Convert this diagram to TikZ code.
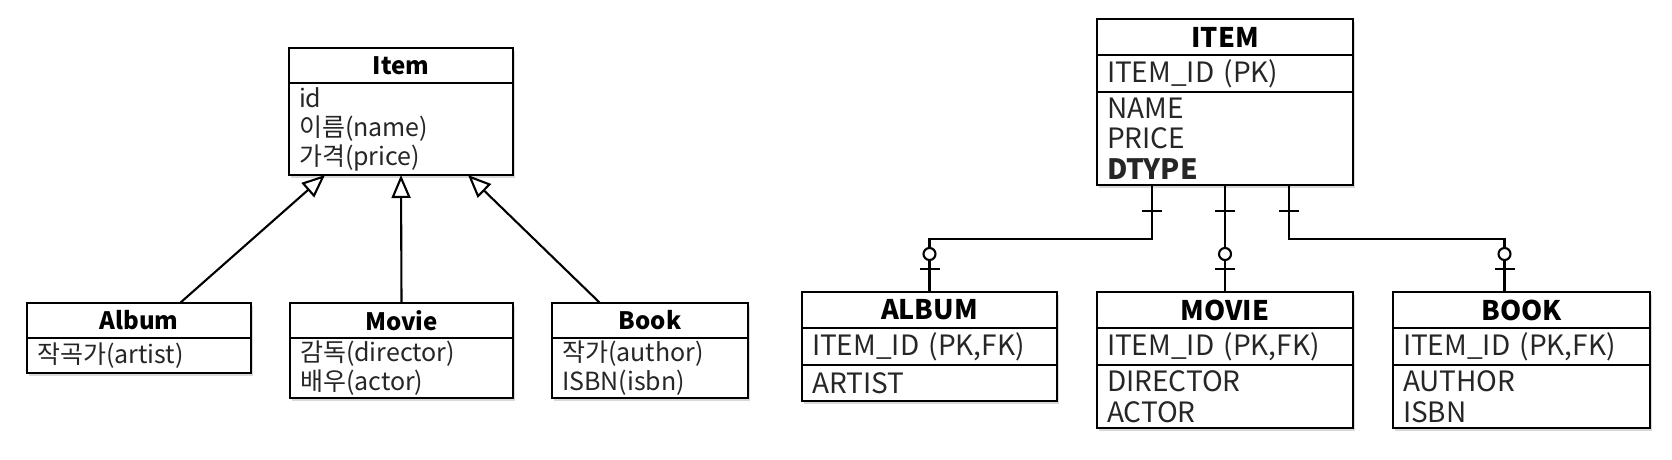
\documentclass[tikz,border=0pt]{standalone}
\usepackage{fontspec}
\setmainfont{Noto Sans CJK KR}
\usetikzlibrary{arrows.meta, positioning, calc, shadows}

\begin{document}
\begin{tikzpicture}[
    x=1pt, y=-1pt,
    box/.style={
        draw, line width=2.3pt, fill=white,
        inner xsep=10pt, inner ysep=0pt, outer sep=0pt, anchor=north west,
        drop shadow={shadow xshift=2pt, shadow yshift=-3pt, opacity=0.3}
    },
    umlhead/.style={box, minimum height=35pt, font=\fontsize{24}{28}\selectfont\bfseries},
    umlbody/.style={box, align=left, font=\fontsize{25}{29}\selectfont, text=black!85},
    erhead/.style={box, minimum height=36pt, font=\fontsize{27}{31}\selectfont\bfseries},
    erbody/.style={box, align=left, font=\fontsize{28}{30.5}\selectfont, text=black!85},
    inh/.style={-{Triangle[open, length=23pt, width=19pt]}, line width=2.1pt},
    rel/.style={line width=2.1pt}
]
\useasboundingbox (0,0) rectangle (1672,460);

% Class diagram
\node[umlhead, minimum width=224pt] (item) at (289,48) {Item};
\node[umlbody, text width=204pt, minimum height=92pt, below=0pt of item] (itemAttr) {
    id\\이름(name)\\가격(price)
};

\node[umlhead, minimum width=224pt] (album) at (27,303) {Album};
\node[umlbody, text width=204pt, minimum height=35pt, below=0pt of album] (albumAttr) {작곡가(artist)};

\node[umlhead, minimum width=223pt] (movie) at (290,303) {Movie};
\node[umlbody, text width=203pt, minimum height=60pt, below=0pt of movie] (movieAttr) {
    감독(director)\\배우(actor)
};

\node[umlhead, minimum width=196pt] (book) at (552,303) {Book};
\node[umlbody, text width=176pt, minimum height=60pt, below=0pt of book] (bookAttr) {
    작가(author)\\ISBN(isbn)
};

\draw[inh] ($(album.north)+(41,0)$) -- ($(itemAttr.south)+(-76,0)$);
\draw[inh] (movie.north) -- (itemAttr.south);
\draw[inh] ($(book.north)+(-50,0)$) -- ($(itemAttr.south)+(67,0)$);

% Table diagram
\node[erhead, minimum width=256pt] (erItem) at (1097,19) {ITEM};
\node[erbody, text width=236pt, minimum height=37pt, below=0pt of erItem] (erItemKey) {ITEM\_ID (PK)};
\node[erbody, text width=236pt, minimum height=93pt, below=0pt of erItemKey] (erItemAttr) {
    NAME\\PRICE\\\textbf{DTYPE}
};

\node[erhead, minimum width=255pt] (erAlbum) at (802,292) {ALBUM};
\node[erbody, text width=235pt, minimum height=37pt, below=0pt of erAlbum] (erAlbumKey) {ITEM\_ID (PK,FK)};
\node[erbody, text width=235pt, minimum height=36pt, below=0pt of erAlbumKey] (erAlbumAttr) {ARTIST};

\node[erhead, minimum width=256pt] (erMovie) at (1097,292) {MOVIE};
\node[erbody, text width=236pt, minimum height=37pt, below=0pt of erMovie] (erMovieKey) {ITEM\_ID (PK,FK)};
\node[erbody, text width=236pt, minimum height=63pt, below=0pt of erMovieKey] (erMovieAttr) {
    DIRECTOR\\ACTOR
};

\node[erhead, minimum width=257pt] (erBook) at (1393,292) {BOOK};
\node[erbody, text width=237pt, minimum height=37pt, below=0pt of erBook] (erBookKey) {ITEM\_ID (PK,FK)};
\node[erbody, text width=237pt, minimum height=63pt, below=0pt of erBookKey] (erBookAttr) {
    AUTHOR\\ISBN
};

\draw[rel] ($(erItemAttr.south)+(-73,0)$) -- ++(0,54) -| (erAlbum.north);
\draw[rel] (erItemAttr.south) -- (erMovie.north);
\draw[rel] ($(erItemAttr.south)+(64,0)$) -- ++(0,54) -| ($(erBook.north)+(-17,0)$);

% one / zero-or-one marks
\foreach \dx in {-73, 0, 64}
    \draw[rel] ($(erItemAttr.south)+(\dx-10,26)$) -- ++(20,0);
\foreach \n/\dx in {erAlbum/0, erMovie/0, erBook/-17} {
    \draw[rel] ($(\n.north)+(\dx-10,-23)$) -- ++(20,0);
    \draw[rel, fill=white] ($(\n.north)+(\dx,-38)$) circle (6);
}

\end{tikzpicture}
\end{document}
